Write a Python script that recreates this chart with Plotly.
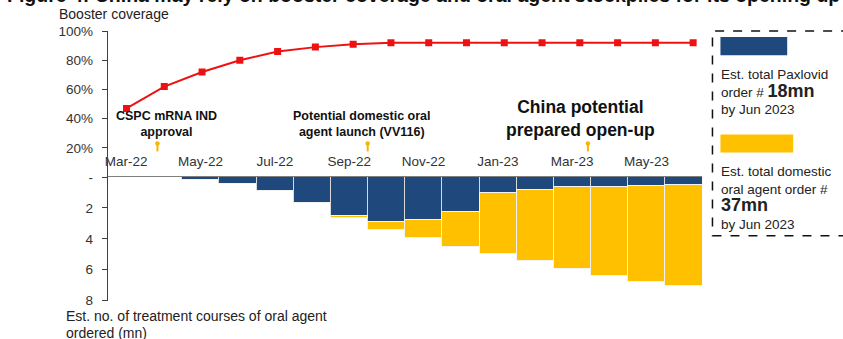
import plotly.graph_objects as go

W, H = 843, 339
INSET = 8  # plotly renders the paper area inset by this many px top and bottom here

months = ["Mar-22", "Apr-22", "May-22", "Jun-22", "Jul-22", "Aug-22", "Sep-22", "Oct-22",
          "Nov-22", "Dec-22", "Jan-23", "Feb-23", "Mar-23", "Apr-23", "May-23", "Jun-23"]
booster = [47, 62, 72, 80, 86, 89, 91, 92, 92, 92, 92, 92, 92, 92, 92, 92]
paxlovid = [0, 0, 0.17, 0.43, 0.9, 1.66, 2.5, 2.93, 2.8, 2.26, 1.04, 0.84, 0.63, 0.63, 0.58, 0.52]
domestic = [0, 0, 0, 0, 0, 0, 0.17, 0.49, 1.16, 2.26, 3.92, 4.59, 5.3, 5.78, 6.22, 6.54]
top_ticks = [20, 40, 60, 80, 100]
top_ticktext = ["20%", "40%", "60%", "80%", "100%"]
bottom_ticks = [0, 2, 4, 6, 8]
bottom_ticktext = ["-", "2", "4", "6", "8"]

NAVY = "#1F497D"
GOLD = "#FFC000"
RED = "#EE1111"
ARIAL = "Liberation Sans, Arial"
TICKFONT = dict(family=ARIAL, size=13.5, color="#333333")

def X(px):
    return px / W

def Y(py):
    return 1 - (py - INSET) / (H - 2 * INSET)

x0, x1 = 105, 701.7
y_top, y_zero, y_bot = 32, 177.5, 300.7

fig = go.Figure()
fig.add_trace(go.Bar(x=months, y=paxlovid, marker=dict(color=NAVY, line=dict(color="#D9D9D9", width=1)),
                     width=1, xaxis="x", yaxis="y", showlegend=False))
fig.add_trace(go.Bar(x=months, y=domestic, marker=dict(color=GOLD, line=dict(color="#F2F2F2", width=1)),
                     width=1, xaxis="x", yaxis="y", showlegend=False))
fig.add_trace(go.Scatter(x=months, y=booster, mode="lines+markers",
                         line=dict(color=RED, width=2),
                         marker=dict(symbol="square", size=7, color=RED),
                         xaxis="x2", yaxis="y2", showlegend=False))

fig.update_layout(
    width=W, height=H, margin=dict(l=0, r=0, t=0, b=0),
    paper_bgcolor="white", plot_bgcolor="rgba(0,0,0,0)",
    barmode="stack", bargap=0,
    font=dict(family=ARIAL, size=14, color="#222222"),
    xaxis=dict(domain=[X(x0), X(x1)], type="category", range=[-0.5, 15.5], anchor="y", side="top",
               tickvals=months[::2], ticktext=months[::2], ticks="", ticklabelstandoff=5,
               showline=True, linecolor="#7F7F7F", linewidth=1, showgrid=False, zeroline=False,
               tickfont=TICKFONT),
    yaxis=dict(domain=[Y(y_bot), Y(y_zero)], range=[8, 0], anchor="x",
               tickvals=bottom_ticks, ticktext=bottom_ticktext, ticks="outside", ticklen=5,
               ticklabelstandoff=6,
               tickcolor="#404040", showline=True, linecolor="#404040", linewidth=1,
               showgrid=False, zeroline=False, tickfont=TICKFONT),
    xaxis2=dict(domain=[X(x0), X(x1)], type="category", range=[-0.5, 15.24], anchor="y2",
                visible=False),
    yaxis2=dict(domain=[Y(y_zero), Y(y_top)], range=[0, 100], anchor="x2",
                tickvals=top_ticks, ticktext=top_ticktext, ticks="outside", ticklen=5,
                ticklabelstandoff=6,
                tickcolor="#404040", showline=True, linecolor="#404040", linewidth=1,
                showgrid=False, zeroline=False, tickfont=TICKFONT),
)

ann = []
# title (cut off at top in the reference)
ann.append(dict(text="<b>Figure 4: China may rely on booster coverage and oral agent stockpiles for its opening up</b>",
                x=X(2), y=Y(9), xref="paper", yref="paper", xanchor="left", yanchor="bottom",
                showarrow=False, font=dict(family=ARIAL, size=19.5, color="#111111")))
ann.append(dict(text="Booster coverage", x=X(54), y=Y(15), xref="paper", yref="paper",
                xanchor="left", yanchor="middle", showarrow=False,
                font=dict(family=ARIAL, size=14, color="#222222")))
bt = dict(xref="paper", yref="paper", xanchor="left", yanchor="middle", align="left",
          showarrow=False, borderpad=0, font=dict(family=ARIAL, size=14, color="#222222"))
ann.append(dict(text="Est. no. of treatment courses of oral agent", x=X(62), y=Y(316), **bt))
ann.append(dict(text="ordered (mn)", x=X(62), y=Y(332.5), **bt))
ann.append(dict(text="<b>CSPC mRNA IND<br>approval</b>", x=X(164), y=Y(124.5), xref="paper", yref="paper",
                xanchor="center", yanchor="middle", align="center", showarrow=False,
                font=dict(family=ARIAL, size=12.5, color="#111111")))
ann.append(dict(text="<b>Potential domestic oral<br>agent launch (VV116)</b>", x=X(360), y=Y(124.5),
                xref="paper", yref="paper", xanchor="center", yanchor="middle", align="center",
                showarrow=False, font=dict(family=ARIAL, size=12.5, color="#111111")))
ann.append(dict(text="<b>China potential<br>prepared open-up</b>", x=X(580), y=Y(119),
                xref="paper", yref="paper", xanchor="center", yanchor="middle", align="center",
                showarrow=False, font=dict(family=ARIAL, size=17.5, color="#111111")))

# legend box texts
lt = dict(xref="paper", yref="paper", xanchor="left", yanchor="middle", showarrow=False, align="left",
          font=dict(family=ARIAL, size=13.5, color="#222222"))
ann.append(dict(text="Est. total Paxlovid<br>order # <b><span style='font-size:18px'>18mn</span></b><br>by Jun 2023",
                x=X(719), y=Y(93), **lt))
ann.append(dict(text="Est. total domestic<br>oral agent order #<br><b><span style='font-size:18px'>37mn</span></b><br>by Jun 2023",
                x=X(719), y=Y(198), **lt))
fig.update_layout(annotations=ann)

shapes = []
# legend dashed box
shapes.append(dict(type="rect", xref="paper", yref="paper", x0=X(712), x1=X(850), y0=Y(236), y1=Y(32),
                   line=dict(color="#111111", width=1.5, dash="dash"), fillcolor="rgba(0,0,0,0)"))
shapes.append(dict(type="rect", xref="paper", yref="paper", x0=X(720), x1=X(787), y0=Y(56), y1=Y(38),
                   line=dict(width=0), fillcolor=NAVY))
shapes.append(dict(type="rect", xref="paper", yref="paper", x0=X(720), x1=X(793), y0=Y(153), y1=Y(135),
                   line=dict(width=0), fillcolor=GOLD))
# event pins
PIN = "#F5B800"
for px in (155, 366, 587):
    shapes.append(dict(type="line", xref="paper", yref="paper", x0=X(px), x1=X(px), y0=Y(152), y1=Y(144),
                       line=dict(color=PIN, width=2)))
    shapes.append(dict(type="circle", xref="paper", yref="paper", x0=X(px - 2.3), x1=X(px + 2.3),
                       y0=Y(146.5), y1=Y(141.9), line=dict(width=0), fillcolor=PIN))
fig.update_layout(shapes=shapes)

fig.write_html("out.html")
